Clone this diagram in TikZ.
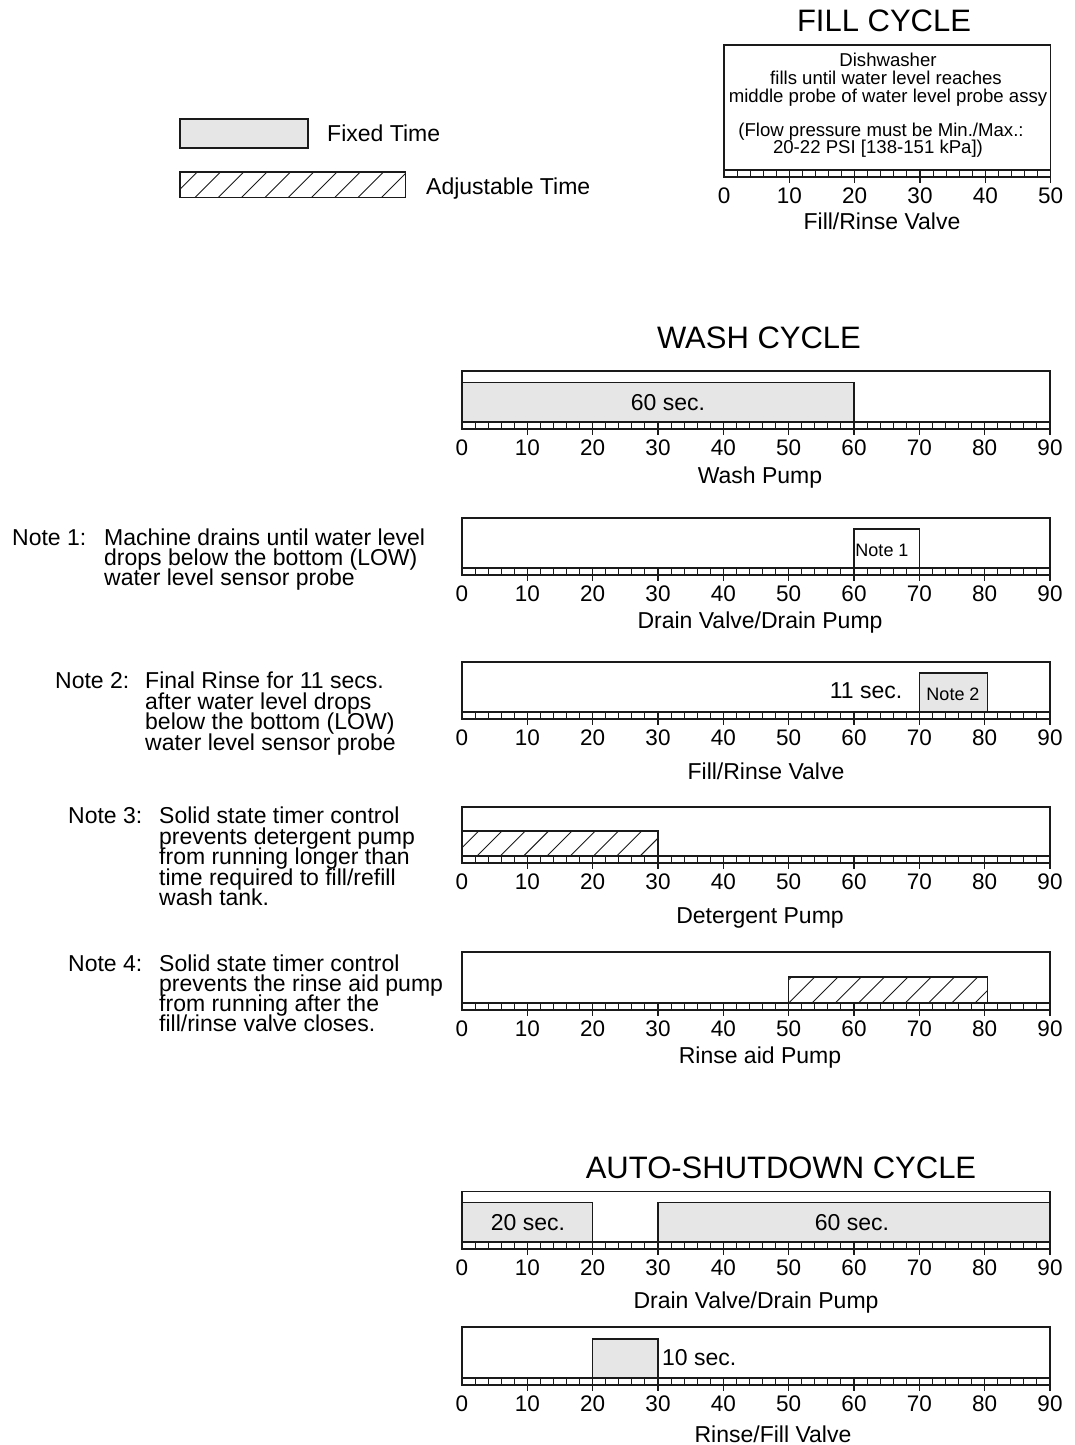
\documentclass[tikz,border=0pt]{standalone}
\usepackage{fontspec}
\setmainfont{Liberation Sans}
\definecolor{ink}{HTML}{1A1A1A}
\definecolor{barfill}{HTML}{E6E6E6}
\newcommand\U{6.5333}
\tikzset{
  boxline/.style={draw=ink, line width=1.3pt},
  cellline/.style={draw=ink, line width=1.1pt},
  fixedbar/.style={draw=ink, line width=1.1pt, fill=barfill},
  hatchline/.style={draw=ink, line width=0.9pt},
  hatchframe/.style={draw=ink, line width=1.1pt},
  num/.style={inner sep=0pt, font=\fontsize{22.5}{22.5}\selectfont, text height=16.1pt, text depth=0pt, anchor=center},
  txt/.style={inner sep=0pt, font=\fontsize{23}{20}\selectfont, text height=16.5pt, text depth=0pt},
  small/.style={inner sep=0pt, font=\fontsize{18.6}{17}\selectfont, text height=13.3pt, text depth=0pt},
  title/.style={inner sep=0pt, font=\fontsize{31}{31}\selectfont, text height=22.2pt, text depth=0pt},
}
% axis strip with cells, ticks and numbers
\newcommand\tlaxis[5]{% #1 name, #2 x0, #3 strip top, #4 max, #5 box top
  \pgfmathsetmacro\xe{#2+#4*\U}
  \draw[boxline] (#2,#5) rectangle (\xe,#3+7);
  \draw[cellline] (#2,#3) -- (\xe,#3);
  \foreach \k in {2,4,...,#4}{\draw[cellline] (#2+\k*\U,#3) -- ++(0,7);}
  \foreach \m in {10,20,...,#4}{\draw[cellline] (#2+\m*\U,#3+7) -- ++(0,6);}
  \foreach \m in {0,10,...,#4}{\node[num] (#1-\m) at (#2+\m*\U,#3+25) {\m};}
}
% hatched bar
\newcommand\hatchbar[5]{% #1 xa, #2 xb, #3 ytop, #4 ybot, #5 phase
  \pgfmathsetmacro\hh{#4-#3}
  \begin{scope}
    \clip (#1,#3) rectangle (#2,#4);
    \foreach \k in {-2,...,12}{\draw[hatchline] (#1+#5+\k*23.3,#4) -- ++(\hh,-\hh);}
  \end{scope}
  \draw[hatchframe] (#1,#3) rectangle (#2,#4);
}
\begin{document}
\begin{tikzpicture}[x=1pt,y=-1pt]
\useasboundingbox (0,0) rectangle (1074,1445);

% ---------- Legend ----------
\draw[fixedbar] (180,119) rectangle (308,148);
\node[txt, anchor=west] (legfixed) at (327,133) {Fixed Time};
\hatchbar{180}{405.7}{172}{197.5}{15}
\node[txt, anchor=west] (legadj) at (426,186) {Adjustable Time};

% ---------- Fill cycle ----------
\node[title] (filltitle) at (884,20) {FILL CYCLE};
\tlaxis{fill}{724}{170}{50}{45}
\node[small] (f1) at (888,60) {Dishwasher};
\node[small] (f2) at (886,77.5) {fills until water level reaches};
\node[small] (f3) at (888,95.5) {middle probe of water level probe assy};
\node[small] (f4) at (881,130) {(Flow pressure must be Min./Max.:};
\node[small] (f5) at (878,147) {20-22 PSI [138-151 kPa])};
\node[txt, anchor=center] (filllab) at (882,221) {Fill/Rinse Valve};

% ---------- Wash cycle ----------
\node[title] (washtitle) at (759,337) {WASH CYCLE};

% Wash pump
\draw[fixedbar] (462,382.5) rectangle (462+60*\U,422);
\node[txt, anchor=center] (w60) at (668,402) {60 sec.};
\tlaxis{wp}{462}{422}{90}{371}
\node[txt, anchor=center] (wplab) at (760,475) {Wash Pump};

% Drain valve / drain pump
\draw[fixedbar, fill=white] (462+60*\U,529) rectangle (462+70*\U,568);
\node[small, font=\fontsize{18}{18}\selectfont] (n1box) at (882,550) {Note 1};
\tlaxis{dv}{462}{568}{90}{518}
\node[txt, anchor=center] (dvlab) at (760,620) {Drain Valve/Drain Pump};

% Fill/rinse valve
\draw[fixedbar] (462+70*\U,673) rectangle (462+80.5*\U,712);
\node[small, font=\fontsize{18}{18}\selectfont] (n2box) at (953,694) {Note 2};
\node[txt, anchor=center] (w11) at (866,690) {11 sec.};
\tlaxis{fr}{462}{712}{90}{662}
\node[txt, anchor=center] (frlab) at (766,771) {Fill/Rinse Valve};

% Detergent pump
\hatchbar{462}{462+30*\U}{831}{856}{15}
\tlaxis{dp}{462}{856}{90}{807}
\node[txt, anchor=center] (dplab) at (760,915) {Detergent Pump};

% Rinse aid pump
\hatchbar{462+50*\U}{462+80.5*\U}{977}{1003}{0}
\tlaxis{ra}{462}{1003}{90}{952}
\node[txt, anchor=center] (ralab) at (760,1055) {Rinse aid Pump};

% ---------- Notes ----------
\node[txt, anchor=west] (note1) at (12,537) {Note 1:};
\node[txt, anchor=west] (note1a) at (104,537) {Machine drains until water level};
\node[txt, anchor=west] (note1b) at (104,557) {drops below the bottom (LOW)};
\node[txt, anchor=west] (note1c) at (104,577) {water level sensor probe};

\node[txt, anchor=west] (note2) at (55,680) {Note 2:};
\node[txt, anchor=west] (note2a) at (145,680) {Final Rinse for 11 secs.};
\node[txt, anchor=west] (note2b) at (145,701) {after water level drops};
\node[txt, anchor=west] (note2c) at (145,721.5) {below the bottom (LOW)};
\node[txt, anchor=west] (note2d) at (145,742) {water level sensor probe};

\node[txt, anchor=west] (note3) at (68,815) {Note 3:};
\node[txt, anchor=west] (note3a) at (159,815) {Solid state timer control};
\node[txt, anchor=west] (note3b) at (159,836) {prevents detergent pump};
\node[txt, anchor=west] (note3c) at (159,856.5) {from running longer than};
\node[txt, anchor=west] (note3d) at (159,877) {time required to fill/refill};
\node[txt, anchor=west] (note3e) at (159,897) {wash tank.};

\node[txt, anchor=west] (note4) at (68,963) {Note 4:};
\node[txt, anchor=west] (note4a) at (159,963) {Solid state timer control};
\node[txt, anchor=west] (note4b) at (159,983) {prevents the rinse aid pump};
\node[txt, anchor=west] (note4c) at (159,1003) {from running after the};
\node[txt, anchor=west] (note4d) at (159,1023) {fill/rinse valve closes.};

% ---------- Auto-shutdown cycle ----------
\node[title] (autotitle) at (781,1167) {AUTO-SHUTDOWN CYCLE};

\draw[fixedbar] (462,1202.5) rectangle (462+20*\U,1242);
\draw[fixedbar] (462+30*\U,1202.5) rectangle (462+90*\U,1242);
\node[txt, anchor=center] (a20) at (528,1222) {20 sec.};
\node[txt, anchor=center] (a60) at (852,1222) {60 sec.};
\tlaxis{ad}{462}{1242}{90}{1191.5}
\node[txt, anchor=center] (adlab) at (756,1300) {Drain Valve/Drain Pump};

\draw[fixedbar] (462+20*\U,1339) rectangle (462+30*\U,1378);
\node[txt, anchor=west] (a10) at (662,1357) {10 sec.};
\tlaxis{af}{462}{1378}{90}{1327}
\node[txt, anchor=center] (aflab) at (773,1434) {Rinse/Fill Valve};
\end{tikzpicture}
\end{document}
